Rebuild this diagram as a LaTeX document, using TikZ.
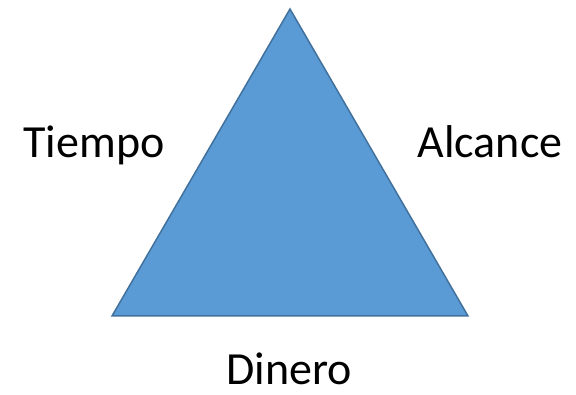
\documentclass[tikz,border=0pt]{standalone}
\usepackage{fontspec}
\setmainfont{Carlito}
\definecolor{triFill}{HTML}{5B9BD5}
\definecolor{triLine}{HTML}{41719C}
\begin{document}
\begin{tikzpicture}[x=1pt,y=1pt,
  lbl/.style={font=\fontsize{46}{50}\selectfont, inner sep=0pt, anchor=base, text=black}]
\useasboundingbox (0,0) rectangle (576,395);
\coordinate (apex) at (290,386);
\coordinate (bl) at (112,79);
\coordinate (br) at (468,79);
\filldraw[fill=triFill, draw=triLine, line width=1.5pt, line join=miter] (apex) -- (br) -- (bl) -- cycle;
\node[lbl] (tiempo) at (94,237) {Tiempo};
\node[lbl] (alcance) at (490,237) {Alcance};
\node[lbl] (dinero) at (289,10) {Dinero};
\end{tikzpicture}
\end{document}
